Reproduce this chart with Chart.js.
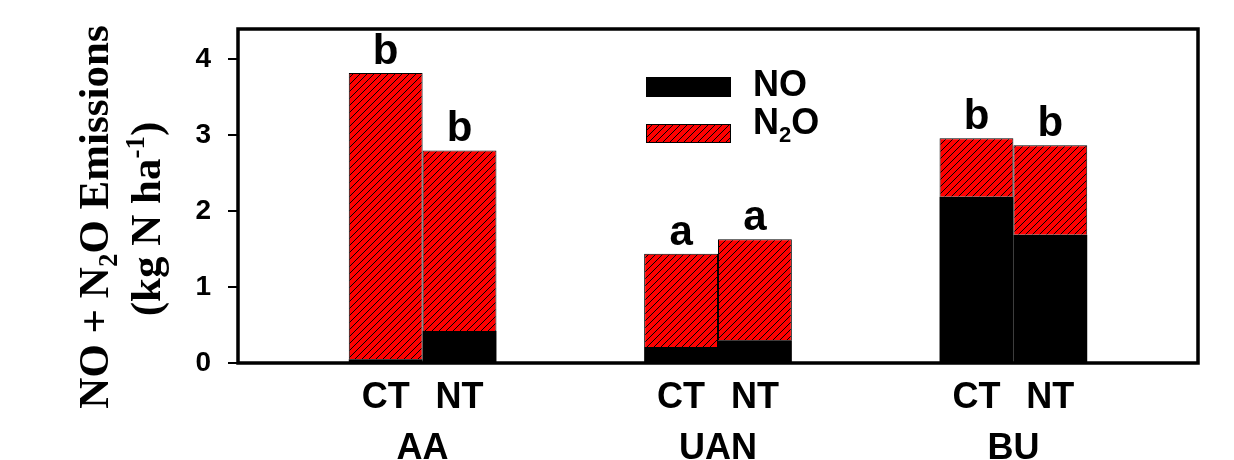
<!DOCTYPE html>
<html>
<head>
<meta charset="utf-8">
<script src="https://cdn.jsdelivr.net/npm/chart.js@4.4.1/dist/chart.umd.min.js"></script>
<style>
html, body { margin: 0; padding: 0; background: #fff; }
canvas { display: block; }
</style>
</head>
<body>
<canvas id="emissionsChart" width="1234" height="460"></canvas>
<script>
// values (kg N ha-1)
const groups = ['AA', 'UAN', 'BU'];
const treatments = ['CT', 'NT'];
const noCT = [0.05, 0.21, 2.19];
const noNT = [0.42, 0.30, 1.69];
const n2oCT = [3.77, 1.23, 0.77];
const n2oNT = [2.38, 1.33, 1.18];
const lettersCT = ['b', 'a', 'b'];
const lettersNT = ['b', 'a', 'b'];
const yTicks = [0, 1, 2, 3, 4];

const SANS = '"Liberation Sans", Arial, sans-serif';
const SERIF = '"Liberation Serif", "Times New Roman", serif';
const catPct = 0.5;

function hatch(color) {
    let c = document.createElement('canvas');
    c.width = 7;
    c.height = 7;
    let g = c.getContext('2d');
    g.fillStyle = color;
    g.fillRect(0, 0, 7, 7);
    g.strokeStyle = '#000';
    g.lineWidth = 1;
    g.beginPath();
    g.moveTo(0, 7); g.lineTo(7, 0);
    g.moveTo(-1, 1); g.lineTo(1, -1);
    g.moveTo(6, 8); g.lineTo(8, 6);
    g.stroke();
    return g.createPattern(c, 'repeat');
}
const redHatch = hatch('#ff0000');

function points(values) {
    return values.map((v, i) => ({x: i + 1, y: v}));
}

// frame round the plot area
const framePlugin = {
    id: 'frame',
    afterDatasetsDraw(chart) {
        let {ctx, chartArea: a} = chart;
        ctx.save();
        ctx.strokeStyle = '#000';
        ctx.lineWidth = 3.5;
        ctx.strokeRect(a.left, a.top, a.right - a.left, a.bottom - a.top);
        ctx.restore();
    }
};

// significance letters over each stacked bar
const lettersPlugin = {
    id: 'letters',
    afterDatasetsDraw(chart) {
        let ctx = chart.ctx;
        ctx.save();
        ctx.fillStyle = '#000';
        ctx.font = 'bold 42px ' + SANS;
        ctx.textAlign = 'center';
        ctx.textBaseline = 'alphabetic';
        [[1, lettersCT], [3, lettersNT]].forEach(([dsIndex, letters]) => {
            chart.getDatasetMeta(dsIndex).data.forEach((bar, i) => {
                ctx.fillText(letters[i], bar.x, bar.y - 9);
            });
        });
        ctx.restore();
    }
};

// text with a lowered / raised small part
function drawParts(ctx, parts, x, y, size) {
    parts.forEach(p => {
        let s = p.sub || p.sup ? Math.round(size * 0.62) : size;
        ctx.font = 'bold ' + s + 'px ' + p.family;
        let dy = p.sub ? size * 0.22 : (p.sup ? -size * 0.38 : 0);
        ctx.fillText(p.t, x, y + dy);
        x += ctx.measureText(p.t).width;
    });
    return x;
}
function partsWidth(ctx, parts, size) {
    let w = 0;
    parts.forEach(p => {
        let s = p.sub || p.sup ? Math.round(size * 0.62) : size;
        ctx.font = 'bold ' + s + 'px ' + p.family;
        w += ctx.measureText(p.t).width;
    });
    return w;
}

const legendPlugin = {
    id: 'customLegend',
    afterDraw(chart) {
        let {ctx, chartArea: a} = chart;
        let bx = a.left + 408;
        ctx.save();
        ctx.fillStyle = '#000';
        ctx.fillRect(bx, a.top + 48, 85, 20);
        ctx.fillStyle = redHatch;
        ctx.fillRect(bx, a.top + 95, 85, 19);
        ctx.strokeStyle = '#000';
        ctx.lineWidth = 1;
        ctx.strokeRect(bx + 0.5, a.top + 95.5, 84, 18);
        ctx.fillStyle = '#000';
        ctx.textAlign = 'left';
        ctx.textBaseline = 'alphabetic';
        let tx = a.left + 515;
        drawParts(ctx, [{t: 'NO', family: SANS}], tx, a.top + 67, 36);
        drawParts(ctx, [{t: 'N', family: SANS}, {t: '2', sub: true, family: SANS}, {t: 'O', family: SANS}], tx, a.top + 105, 36);
        ctx.restore();
    }
};

const yTitlePlugin = {
    id: 'yTitle',
    afterDraw(chart) {
        let ctx = chart.ctx;
        let size = 43;
        let line1 = [{t: 'NO + N', family: SERIF}, {t: '2', sub: true, family: SERIF}, {t: 'O Emissions', family: SERIF}];
        let line2 = [{t: '(kg N ha', family: SERIF}, {t: '-1', sup: true, family: SERIF}, {t: ')', family: SERIF}];
        ctx.save();
        ctx.fillStyle = '#000';
        ctx.textAlign = 'left';
        ctx.textBaseline = 'alphabetic';
        [[line1, 108, 217], [line2, 160, 219]].forEach(([parts, bx, cy]) => {
            let w = partsWidth(ctx, parts, size);
            ctx.save();
            ctx.translate(bx, cy);
            ctx.rotate(-Math.PI / 2);
            drawParts(ctx, parts, -w / 2, 0, size);
            ctx.restore();
        });
        ctx.restore();
    }
};

let ctx = document.getElementById('emissionsChart');
new Chart(ctx, {
    type: 'bar',
    data: {
        datasets: [
            {label: 'NO', stack: 'CT', data: points(noCT), backgroundColor: '#000', borderWidth: 0},
            {label: 'N2O', stack: 'CT', data: points(n2oCT), backgroundColor: redHatch, borderColor: '#000', borderWidth: 1},
            {label: 'NO', stack: 'NT', data: points(noNT), backgroundColor: '#000', borderWidth: 0},
            {label: 'N2O', stack: 'NT', data: points(n2oNT), backgroundColor: redHatch, borderColor: '#000', borderWidth: 1}
        ]
    },
    options: {
        responsive: false,
        animation: false,
        devicePixelRatio: 1,
        categoryPercentage: catPct,
        barPercentage: 1,
        layout: {padding: {top: 29, right: 36, left: 0, bottom: 0}},
        plugins: {
            legend: {display: false},
            tooltip: {enabled: false}
        },
        scales: {
            x: {
                type: 'linear',
                stacked: true,
                offset: false,
                min: 0.375,
                max: 3.625,
                weight: 1,
                grid: {display: false, offset: false},
                border: {display: false},
                afterBuildTicks: scale => {
                    scale.ticks = groups.map((g, i) => ({value: i + 1}));
                },
                afterFit: scale => { scale.height = 52; },
                ticks: {
                    autoSkip: false,
                    maxRotation: 0,
                    padding: 15,
                    color: '#000',
                    font: {family: SANS, size: 36, weight: 'bold', lineHeight: 1},
                    callback: (v, i) => groups[i]
                }
            },
            x2: {
                type: 'linear',
                position: 'bottom',
                offset: false,
                min: 0.375,
                max: 3.625,
                weight: 0,
                grid: {display: false, offset: false},
                border: {display: false},
                afterBuildTicks: scale => {
                    let t = [];
                    groups.forEach((g, i) => {
                        t.push({value: i + 1 - catPct / 4});
                        t.push({value: i + 1 + catPct / 4});
                    });
                    scale.ticks = t;
                },
                afterFit: scale => { scale.height = 45; },
                ticks: {
                    autoSkip: false,
                    maxRotation: 0,
                    padding: 9,
                    color: '#000',
                    font: {family: SANS, size: 36, weight: 'bold', lineHeight: 1},
                    callback: (v, i) => treatments[i % 2]
                }
            },
            y: {
                stacked: true,
                min: 0,
                max: 4.4,
                afterBuildTicks: scale => {
                    scale.ticks = yTicks.map(v => ({value: v}));
                },
                afterFit: scale => {
                    scale.width = 238;
                    scale.paddingTop = 0;
                    scale.paddingBottom = 0;
                },
                grid: {
                    display: true,
                    drawOnChartArea: false,
                    drawTicks: true,
                    tickLength: 10,
                    color: '#000',
                    lineWidth: 2
                },
                border: {display: false},
                ticks: {
                    padding: 17,
                    color: '#000',
                    font: {family: SANS, size: 28, weight: 'bold'}
                }
            }
        }
    },
    plugins: [framePlugin, lettersPlugin, legendPlugin, yTitlePlugin]
});
</script>
</body>
</html>
